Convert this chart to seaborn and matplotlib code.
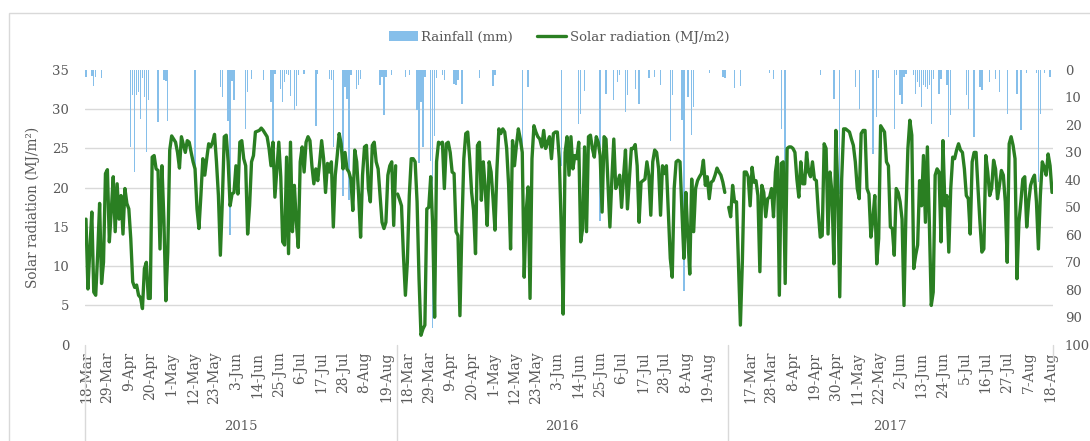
import numpy as np
import pandas as pd
import matplotlib
matplotlib.use("Agg")
import matplotlib.pyplot as plt
import matplotlib.transforms as mtransforms
from matplotlib.patches import Patch, Rectangle
from matplotlib.lines import Line2D
import seaborn as sns

# seasons: first day of each block of daily records
years = ["2015", "2016", "2017"]
season_start = ["2015-03-18", "2016-03-13", "2017-03-06"]

# daily solar radiation (MJ/m2)
solar_2015 = [
    16.0, 7.1, 12.2, 16.9, 6.7, 6.3, 11.5, 18.0, 7.8, 10.5,
    21.8, 22.3, 13.1, 17.1, 21.4, 14.4, 20.5, 16.0, 19.0, 14.1,
    19.9, 18.0, 17.3, 13.5, 8.0, 7.3, 7.6, 6.3, 6.0, 4.6,
    9.7, 10.5, 5.9, 5.9, 23.9, 24.1, 22.4, 22.2, 12.2, 22.8,
    16.0, 5.6, 11.8, 24.8, 26.6, 26.2, 25.8, 24.5, 22.5, 26.5,
    25.5, 24.5, 26.0, 25.8, 24.5, 23.3, 22.4, 17.3, 14.8, 19.0,
    23.7, 21.6, 23.7, 25.6, 25.2, 25.8, 26.8, 23.3, 19.0, 11.4,
    18.2, 26.5, 26.7, 23.3, 17.7, 19.2, 19.4, 22.8, 19.2, 25.8,
    26.0, 23.7, 22.8, 14.1, 17.7, 23.3, 24.1, 27.1, 27.2, 27.3,
    27.6, 27.3, 26.9, 26.5, 25.0, 22.8, 25.8, 18.8, 22.4, 25.8,
    21.4, 13.1, 12.7, 23.9, 11.6, 25.8, 14.4, 20.3, 15.6, 12.4,
    23.3, 25.2, 22.0, 25.8, 26.5, 26.0, 22.8, 20.5, 22.4, 20.9,
    23.3, 26.0, 23.7, 19.4, 23.1, 22.0, 23.3, 15.0, 21.6, 24.1,
    26.9, 25.6, 22.4, 24.5, 22.4, 22.0, 21.1, 17.1, 24.8, 23.3,
    19.0, 13.7, 21.6, 25.2, 25.4, 19.9, 18.2, 25.4, 25.8, 23.3,
    22.4, 19.0, 15.6, 14.8, 15.6, 21.6, 22.8, 23.3, 15.2, 22.8,
]
solar_2016 = [
    19.2, 18.5, 17.7, 11.4, 6.3, 10.5, 19.0, 23.7, 23.7, 23.3,
    18.2, 8.4, 1.2, 2.0, 2.5, 17.3, 17.5, 21.4, 15.2, 3.5,
    23.3, 25.8, 25.6, 25.8, 19.9, 25.6, 25.8, 24.5, 22.0, 21.8,
    14.4, 13.9, 3.7, 14.8, 23.7, 26.9, 27.1, 23.7, 19.4, 17.1,
    11.6, 25.4, 25.8, 18.4, 23.3, 19.9, 15.2, 23.3, 22.0, 18.6,
    14.6, 22.4, 27.5, 26.9, 27.5, 27.1, 25.0, 20.3, 12.2, 26.0,
    22.8, 25.4, 27.5, 26.2, 24.5, 8.6, 16.9, 20.1, 5.9, 23.7,
    27.9, 27.1, 26.5, 26.2, 25.2, 27.3, 25.0, 25.8, 26.5, 23.7,
    26.9, 27.1, 27.1, 23.7, 15.2, 3.9, 24.5, 26.5, 21.6, 26.5,
    22.4, 24.1, 23.7, 25.8, 13.1, 14.8, 25.2, 14.4, 26.5, 26.7,
    25.0, 23.9, 26.5, 25.8, 24.1, 16.9, 26.5, 26.2, 20.7, 15.0,
    21.1, 26.2, 19.9, 20.7, 21.6, 17.5, 21.4, 24.8, 17.3, 21.1,
    25.0, 25.0, 25.5, 22.8, 15.6, 20.7, 20.9, 21.1, 23.3, 21.6,
    16.5, 23.3, 24.8, 24.5, 22.4, 16.5, 22.8, 21.8, 22.8, 16.9,
    11.0, 8.6, 19.9, 23.3, 23.5, 23.3, 16.9, 11.0, 19.4, 13.9,
    9.0, 21.1, 14.4, 19.9, 20.9, 21.4, 21.8, 23.5, 20.3, 21.4,
    18.6, 20.7, 20.9, 21.6, 22.5, 22.0, 21.6, 20.7, 19.4, None,
]
solar_2017 = [
    17.5, 16.3, 20.3, 18.2, 18.2, 10.5, 2.5, 10.5, 22.0, 22.0,
    21.4, 17.7, 22.6, 20.7, 20.9, 19.0, 9.3, 20.3, 19.4, 16.3,
    18.6, 18.8, 19.9, 16.3, 22.0, 23.9, 6.3, 23.1, 23.3, 7.8,
    25.0, 25.2, 25.2, 25.0, 24.5, 21.1, 18.8, 23.3, 20.5, 20.5,
    24.5, 22.0, 21.4, 23.3, 21.1, 20.9, 16.9, 13.7, 13.9, 25.6,
    25.0, 14.1, 22.0, 19.4, 10.3, 27.3, 19.9, 6.1, 21.1, 27.5,
    27.5, 27.3, 27.1, 26.2, 25.4, 23.3, 19.9, 18.6, 26.9, 27.3,
    27.3, 19.9, 19.2, 13.7, 16.0, 19.0, 10.3, 13.5, 27.9, 27.5,
    27.1, 23.3, 22.8, 15.0, 14.8, 11.4, 19.9, 19.4, 18.2, 16.0,
    5.0, 16.9, 25.0, 28.6, 26.7, 9.7, 11.4, 12.7, 20.9, 17.7,
    24.1, 15.6, 25.2, 15.6, 5.0, 6.7, 21.6, 22.4, 22.0, 13.1,
    26.0, 17.7, 19.0, 11.8, 19.9, 23.9, 23.7, 24.8, 25.6, 24.8,
    24.5, 22.4, 19.0, 18.6, 14.1, 23.3, 24.5, 24.5, 19.9, 15.6,
    11.8, 12.2, 24.1, 22.0, 19.0, 19.9, 23.5, 22.4, 18.6, 20.3,
    22.2, 21.6, 18.2, 10.5, 25.6, 26.5, 25.4, 23.7, 8.4, 15.6,
    18.2, 21.1, 21.4, 15.0, 18.2, 20.3, 21.1, 21.6, 18.2, 12.2,
    19.0, 23.3, 22.6, 21.6, 24.3, 22.8, 19.4,
]

# rainy days (day number within the season) and rainfall (mm)
rain_day_2015 = [0, 3, 4, 5, 8, 23, 24, 25, 26, 27, 28, 29, 30, 31, 32, 37, 40, 41, 42, 56,
                 69, 70, 73, 74, 75, 76, 82, 83, 85, 91, 95, 96, 97, 100, 101, 102, 103, 104,
                 105, 107, 108, 109, 112, 118, 119, 125, 126, 127, 132, 133, 134, 135, 136,
                 139, 140, 141, 151, 152, 153, 154, 157]
rain_mm_2015 = [2.5, 2.2, 6.0, 2.5, 2.9, 28.0, 9.0, 37.0, 9.0, 8.0, 18.0, 3.0, 10.0, 30.0, 11.0,
                19.0, 3.8, 4.0, 18.5, 35.5, 6.3, 9.8, 18.5, 60.0, 4.0, 11.0, 21.5, 8.0, 3.2, 3.8,
                11.7, 36.0, 1.5, 6.8, 11.5, 4.2, 1.5, 2.0, 9.5, 14.7, 13.0, 2.0, 1.5, 20.5, 1.5,
                3.2, 3.8, 28.0, 46.0, 6.2, 10.4, 47.5, 2.0, 6.8, 5.6, 3.2, 5.6, 2.5, 16.5, 2.5, 2.0]
rain_day_2016 = [4, 6, 10, 11, 12, 13, 14, 17, 18, 19, 20, 23, 24, 29, 30, 31, 33, 42, 49, 50,
                 64, 67, 84, 93, 94, 96, 104, 107, 111, 113, 114, 117, 118, 122, 124, 129, 132,
                 135, 140, 141, 146, 147, 149, 151, 152, 160, 167, 168]
rain_mm_2016 = [2.5, 1.8, 14.7, 34.0, 11.7, 28.0, 2.5, 33.0, 94.0, 24.0, 3.0, 2.0, 3.5, 5.0, 5.6,
                3.8, 12.3, 2.9, 6.0, 2.0, 50.0, 6.2, 35.0, 19.5, 15.9, 7.8, 55.0, 8.6, 11.0, 4.5,
                2.0, 15.3, 9.2, 6.8, 12.3, 3.0, 2.5, 5.6, 26.0, 9.0, 18.3, 80.6, 9.8, 23.8, 13.5,
                1.0, 2.5, 3.0]
rain_day_2017 = [3, 6, 21, 23, 27, 29, 47, 54, 57, 65, 67, 74, 76, 77, 85, 86, 88, 89, 90, 91,
                 95, 96, 97, 98, 99, 100, 101, 102, 103, 104, 105, 108, 109, 112, 113, 114, 122,
                 123, 126, 129, 130, 134, 137, 139, 143, 148, 150, 153, 158, 159, 160, 162, 165]
rain_mm_2017 = [6.6, 5.8, 1.0, 3.2, 21.4, 40.0, 2.0, 10.4, 45.0, 6.2, 14.1, 30.5, 17.1, 3.0, 21.4,
                2.0, 9.2, 12.3, 2.5, 1.5, 2.0, 8.6, 4.3, 6.2, 13.5, 5.6, 6.2, 6.8, 5.6, 19.5, 3.2,
                8.6, 3.2, 5.6, 24.4, 16.5, 9.2, 14.1, 24.4, 6.2, 7.4, 4.4, 3.2, 8.0, 15.9, 8.6,
                22.0, 1.0, 1.0, 40.8, 15.9, 1.0, 2.5]

# date labels shown under each season
ticks_2015 = ["18-Mar", "29-Mar", "9-Apr", "20-Apr", "1-May", "12-May", "23-May", "3-Jun",
              "14-Jun", "25-Jun", "6-Jul", "17-Jul", "28-Jul", "8-Aug", "19-Aug"]
ticks_2016 = list(ticks_2015)
ticks_2017 = ["17-Mar", "28-Mar", "8-Apr", "19-Apr", "30-Apr", "11-May", "22-May", "2-Jun",
              "13-Jun", "24-Jun", "5-Jul", "16-Jul", "27-Jul", "7-Aug", "18-Aug"]

solar = [solar_2015, solar_2016, solar_2017]
rain_days = [rain_day_2015, rain_day_2016, rain_day_2017]
rain_mm = [rain_mm_2015, rain_mm_2016, rain_mm_2017]
tick_sets = [ticks_2015, ticks_2016, ticks_2017]

GREEN = "#2a7f22"
BLUE = "#86bfea"
GRID = "#d9d9d9"
TXT = "#595959"

# build one long category axis: the three seasons side by side
solar_frames, rain_frames = [], []
tick_pos, tick_lab, bounds, centers = [], [], [-0.5], []
offset = 0
for yr, start, vals, rd, rm, tl in zip(years, season_start, solar, rain_days, rain_mm, tick_sets):
    dates = pd.date_range(start, periods=len(vals), freq="D")
    lab = [f"{d.day}-{d.strftime('%b')}" for d in dates]
    solar_frames.append(pd.DataFrame({"pos": offset + np.arange(len(vals)),
                                      "solar": pd.to_numeric(pd.Series(vals), errors="coerce"),
                                      "year": yr}))
    rain_frames.append(pd.DataFrame({"pos": offset + np.array(rd), "mm": rm}))
    for t in tl:
        tick_pos.append(offset + lab.index(t))
        tick_lab.append(t)
    centers.append(offset + (len(vals) - 1) / 2)
    offset += len(vals)
    bounds.append(offset - 0.5)
solar_df = pd.concat(solar_frames, ignore_index=True)
rain_df = pd.concat(rain_frames, ignore_index=True)

sns.set_style("white")
plt.rcParams["font.family"] = ["DejaVu Serif"]
plt.rcParams["font.size"] = 9.5

fig = plt.figure(figsize=(10.9, 4.41), dpi=100)
ax = fig.add_axes([85 / 1090, 1 - 344.7 / 441, 968 / 1090, 274.7 / 441])
ax2 = ax.twinx()

# rainfall hangs from the top on the inverted right axis
sns.barplot(data=rain_df, x="pos", y="mm", native_scale=True, orient="x", color=BLUE,
            saturation=1, width=0.72, errorbar=None, ax=ax2, linewidth=0)
ax2.set_ylim(100, 0)
ax2.set_yticks(np.arange(0, 101, 10))
# gridlines of the left axis, drawn under the bars
left_ticks = np.arange(0, 36, 5)
ax2.set_yticks((35 - left_ticks) / 35 * 100, minor=True)
ax2.grid(True, which="minor", axis="y", color=GRID, linewidth=1)
ax2.grid(False, which="major")
ax2.set_axisbelow(True)
ax2.set_ylabel("")
ax2.tick_params(axis="y", which="both", length=0, pad=8.5, labelsize=9.5, labelcolor=TXT)

sns.lineplot(data=solar_df, x="pos", y="solar", units="year", estimator=None,
             color=GREEN, linewidth=2.4, ax=ax, legend=False)
ax.set_zorder(ax2.get_zorder() + 1)
ax.patch.set_visible(False)

ax.set_xlim(-0.5, offset - 0.5)
ax.set_ylim(0, 35)
ax.set_yticks(left_ticks)
ax.set_xticks(tick_pos)
ax.set_xticklabels(tick_lab, rotation=90)
ax.tick_params(axis="y", length=0, pad=11.5, labelsize=9.5, labelcolor=TXT)
ax.tick_params(axis="x", length=0, pad=5, labelsize=10, labelcolor=TXT)
ax.set_xlabel("")
ax.set_ylabel("Solar radiation (MJ/m²)", fontsize=9.8, color=TXT)
ax.yaxis.set_label_coords(-45 / 968, 0.5)
for a in (ax, ax2):
    for s in a.spines.values():
        s.set_visible(False)

# multi-level category frame: season separators and year labels
trans = mtransforms.blended_transform_factory(ax.transData, ax.transAxes)
depth = -(441 - 344.7) / 274.7
for i, b in enumerate(bounds):
    low = -16 / 274.7 if i == len(bounds) - 1 else depth
    ax.plot([b, b], [0, low], transform=trans, color=GRID, lw=1, clip_on=False)
for c, yr in zip(centers, years):
    ax.text(c, -(427 - 344.7) / 274.7, yr, transform=trans, ha="center", va="center",
            fontsize=9.5, color=TXT)

handles = [Patch(facecolor=BLUE, edgecolor="none"), Line2D([], [], color=GREEN, lw=2.4)]
fig.legend(handles, ["Rainfall (mm)", "Solar radiation (MJ/m2)"], loc="center",
           bbox_to_anchor=(559 / 1090, 1 - 37 / 441), ncol=2, frameon=False, fontsize=9.5,
           handlelength=2.2, handletextpad=0.3, columnspacing=1.8, labelcolor=TXT)

# outer chart border
fig.add_artist(Rectangle((9 / 1090, -0.1), 1.2, 1.1 - 13 / 441, transform=fig.transFigure,
                         fill=False, edgecolor=GRID, linewidth=1))

fig.savefig("out.png", dpi=100)
